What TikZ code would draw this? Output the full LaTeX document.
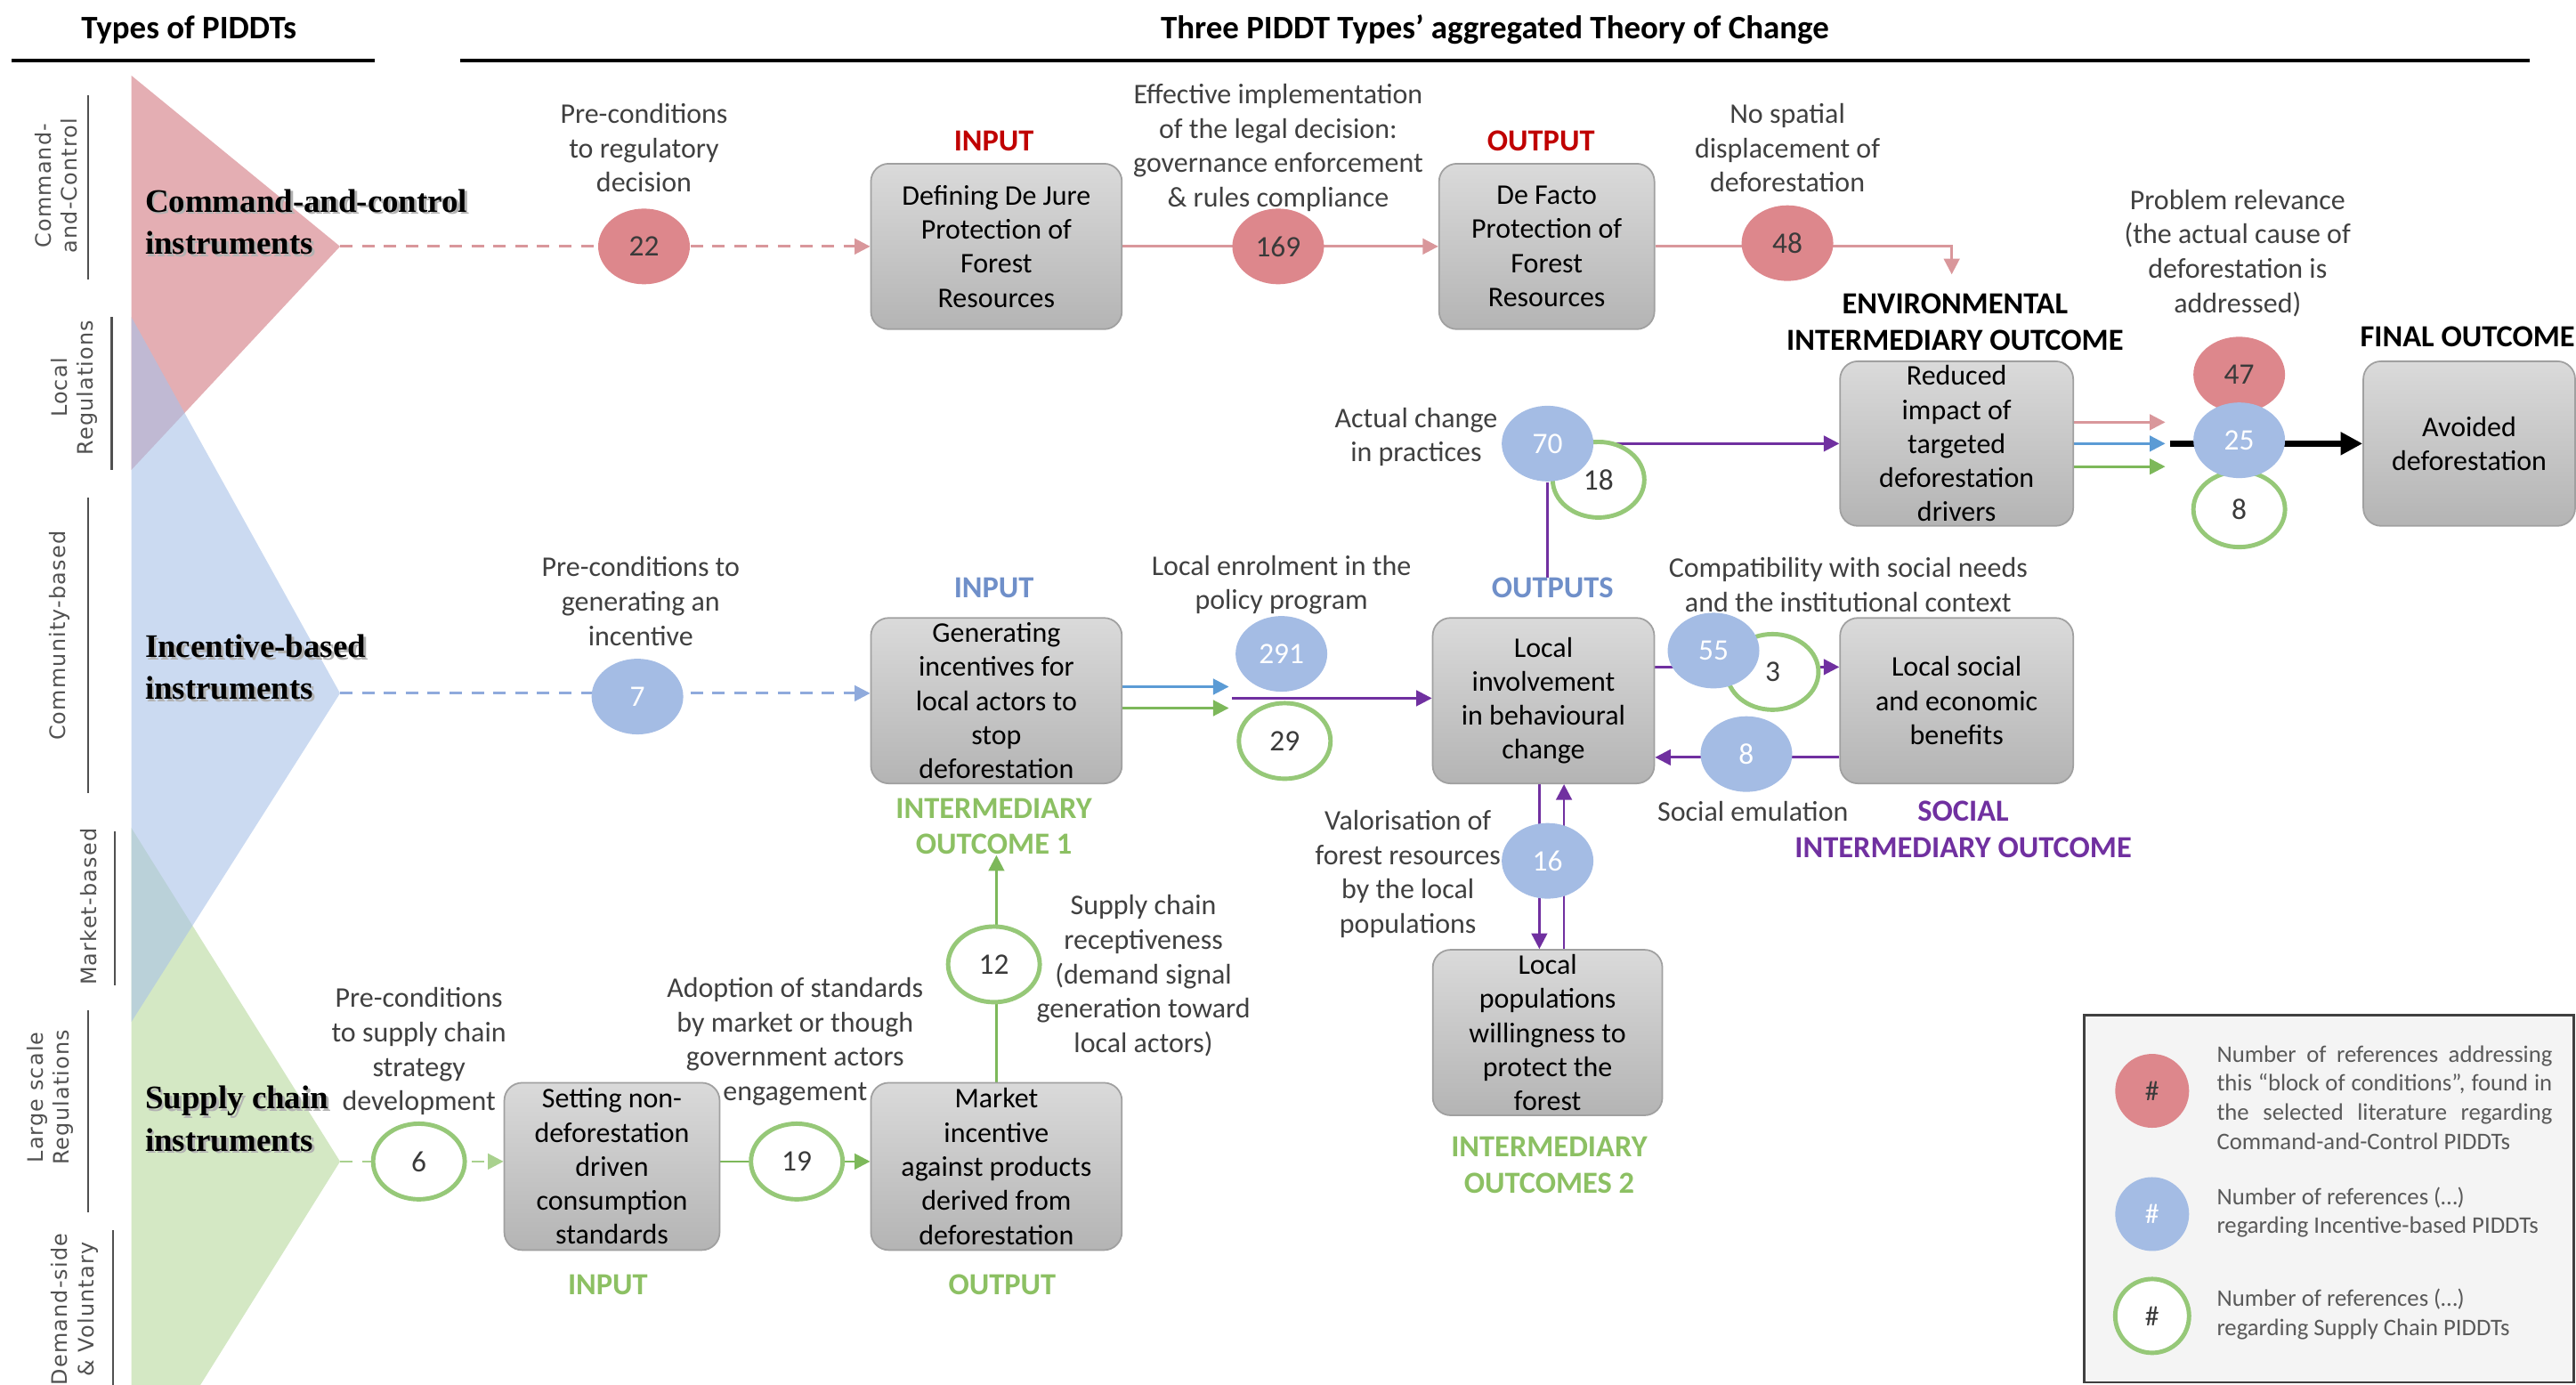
\documentclass[tikz,border=0pt]{standalone}
\usepackage{fontspec}
\setmainfont{Carlito}
\newfontfamily\serifbold{Liberation Serif}
\newfontfamily\sidefont[LetterSpace=5]{DejaVu Sans}
\usetikzlibrary{arrows.meta,shapes.geometric,backgrounds}
\definecolor{redfill}{HTML}{DD878C}
\definecolor{bluefill}{HTML}{A4BCE4}
\definecolor{greenring}{HTML}{96C878}
\definecolor{pinkline}{HTML}{D9979B}
\definecolor{blueline}{HTML}{5B9BD5}
\definecolor{bluedash}{HTML}{8FAADC}
\definecolor{greenarrow}{HTML}{7DB85A}
\definecolor{greendash}{HTML}{A9D18E}
\definecolor{purp}{HTML}{7030A0}
\definecolor{lblgray}{HTML}{404040}
\definecolor{numdark}{HTML}{3A3A3A}
\definecolor{boxtop}{HTML}{DADADA}
\definecolor{boxbot}{HTML}{B4B4B4}
\definecolor{boxline}{HTML}{A0A0A0}
\definecolor{redlbl}{HTML}{C00000}
\definecolor{bluelbl}{HTML}{6F8FC9}
\definecolor{greenlbl}{HTML}{8CC063}
\definecolor{redtri}{HTML}{D27880}
\definecolor{bluetri}{HTML}{A9C2E8}
\definecolor{greentri}{HTML}{B8D99D}
\definecolor{sidegray}{HTML}{505050}
\definecolor{legfill}{HTML}{F4F4F4}
\definecolor{legline}{HTML}{404040}
\definecolor{leggray}{HTML}{595959}
\begin{document}
\begin{tikzpicture}[x=0.018457cm,y=-0.018457cm,
  lbl/.style={font=\fontsize{9.1}{11}\selectfont, text=lblgray, align=center, inner sep=0pt},
  clbl/.style={font=\fontsize{9.8}{11.6}\selectfont\bfseries, align=center, inner sep=0pt},
  box/.style={rounded corners=0.2cm, top color=boxtop, bottom color=boxbot, draw=boxline,
    line width=0.5pt, align=center, inner sep=0pt, font=\fontsize{9.1}{10.9}\selectfont,
    text=black, minimum height=1.86cm},
  cnum/.style={ellipse, minimum width=1.03cm, minimum height=0.85cm, inner sep=0pt,
    font=\fontsize{9.5}{11}\selectfont},
  cred/.style={cnum, fill=redfill, text=numdark},
  cblue/.style={cnum, fill=bluefill, text=white},
  cgreen/.style={cnum, fill=white, draw=greenring, line width=1.4pt, text=numdark},
  hdr/.style={font=\fontsize{10.5}{12}\selectfont\bfseries, align=center, inner sep=0pt},
  tri/.style={font=\serifbold\fontsize{10.5}{13.4}\selectfont\bfseries, align=left, anchor=west, inner sep=0pt},
  side/.style={font=\sidefont\fontsize{6.8}{8.3}\selectfont, text=sidegray, align=center, rotate=90, inner sep=0pt},
  conn/.style={line width=0.8pt, -{Triangle[length=5pt,width=5pt]}},
  lgc/.style={circle, minimum size=0.83cm, inner sep=0pt, font=\fontsize{9}{10}\selectfont},
  legtxt/.style={anchor=west, text=leggray, font=\fontsize{7.6}{9.3}\selectfont, inner sep=0pt},
]
\useasboundingbox (0,0) rectangle (1568,843);

% ---------- triangles ----------
\begin{pgfonlayer}{background}
\fill[redtri, fill opacity=.6] (80,46) -- (207,150) -- (80,286) -- cycle;
\fill[greentri, fill opacity=.6] (80,504) -- (207,707) -- (122,843) -- (80,843) -- cycle;
\fill[bluetri, fill opacity=.6] (80,193) -- (207,422) -- (80,622) -- cycle;
\end{pgfonlayer}

% ---------- headers ----------
\node[hdr] (h1) at (115,18) {Types of PIDDTs};
\node[hdr] (h2) at (910,18) {Three PIDDT Types’ aggregated Theory of Change};
\draw[line width=1.1pt] (7,37) -- (228,37);
\draw[line width=1.1pt] (280,37) -- (1540,37);

% ---------- side labels ----------
\draw[sidegray, line width=0.6pt] (53.6,58) -- (53.6,170);
\draw[sidegray, line width=0.6pt] (68,193) -- (68,286);
\draw[sidegray, line width=0.6pt] (53.6,303) -- (53.6,483);
\draw[sidegray, line width=0.6pt] (70,506) -- (70,600);
\draw[sidegray, line width=0.6pt] (53.6,615) -- (53.6,738);
\draw[sidegray, line width=0.6pt] (69,749) -- (69,843);
\node[side] (s1) at (34,113) {Command-\\and-Control};
\node[side] (s2) at (45,236) {Local\\Regulations};
\node[side] (s3) at (36,387) {Community-based};
\node[side] (s4) at (54,552) {Market-based};
\node[side] (s5) at (30.5,668) {Large scale\\Regulations};
\node[side] (s6) at (45.5,797) {Demand-side\\\& Voluntary};

% ---------- triangle labels ----------
\node[tri, text=black!30] at (89.5,136.5) {Command-and-control\\instruments};
\node[tri] (tC) at (88,135) {Command-and-control\\instruments};
\node[tri, text=black!30] at (89.5,407.5) {Incentive-based\\instruments};
\node[tri] (tI) at (88,406) {Incentive-based\\instruments};
\node[tri, text=black!30] at (89.5,682.5) {Supply chain\\instruments};
\node[tri] (tS) at (88,681) {Supply chain\\instruments};

% ---------- boxes ----------
\node[box, minimum width=2.82cm] (b1) at (606.5,150) {Defining De Jure\\Protection of\\Forest\\Resources};
\node[box, minimum width=2.42cm] (b2) at (941.5,150) {De Facto\\Protection of\\Forest\\Resources};
\node[box, minimum width=2.62cm, minimum height=1.85cm] (env) at (1191,270) {Reduced\\impact of\\targeted\\deforestation\\drivers};
\node[box, minimum width=2.38cm, minimum height=1.85cm] (final) at (1503,270) {Avoided\\deforestation};
\node[box, minimum width=2.82cm] (b3) at (606.5,426.5) {Generating\\incentives for\\local actors to\\stop\\deforestation};
\node[box, minimum width=2.49cm] (b4) at (939.5,426.5) {Local\\involvement\\in behavioural\\change};
\node[box, minimum width=2.62cm] (b5) at (1191,426.5) {Local social\\and economic\\benefits};
\node[box, minimum width=2.58cm] (b6) at (942,628.5) {Local\\populations\\willingness to\\protect the\\forest};
\node[box, minimum width=2.42cm, minimum height=1.88cm] (b7) at (372.5,710) {Setting non-\\deforestation\\driven\\consumption\\standards};
\node[box, minimum width=2.82cm, minimum height=1.88cm] (b8) at (606.5,710) {Market\\incentive\\against products\\derived from\\deforestation};

% ---------- circles ----------
\node[cred] (c22) at (392,150) {22};
\node[cred] (c169) at (778,150) {169};
\node[cred] (c48) at (1088,148) {48};
\node[cred] (c47) at (1363,228) {47};
\node[cgreen] (c8g) at (1363,310) {8};
\node[cblue] (c25) at (1363,268) {25};
\node[cgreen] (c18) at (973,292) {18};
\node[cblue] (c70) at (942,270) {70};
\node[cblue] (c7) at (388,424) {7};
\node[cblue] (c291) at (780,398) {291};
\node[cgreen] (c29) at (782,451) {29};
\node[cgreen] (c3) at (1079,409) {3};
\node[cblue] (c55) at (1043,396) {55};
\node[cblue] (c8b) at (1063,459) {8};
\node[cblue] (c16) at (942,524) {16};
\node[cgreen] (c6) at (255,707) {6};
\node[cgreen] (c19) at (485,707) {19};
\node[cgreen] (c12) at (605,587) {12};

% ---------- labels ----------
\node[lbl] (l22) at (392,90) {Pre-conditions\\to regulatory\\decision};
\node[lbl] (l169) at (778,90) {Effective implementation\\of the legal decision:\\governance enforcement\\\& rules compliance};
\node[lbl] (l48) at (1088,90) {No spatial\\displacement of\\deforestation};
\node[clbl, text=redlbl] (in1) at (605,86) {INPUT};
\node[clbl, text=redlbl] (out1) at (938,86) {OUTPUT};
\node[lbl] (lpr) at (1362,154) {Problem relevance\\(the actual cause of\\deforestation is\\addressed)};
\node[clbl] (envl) at (1190,196) {ENVIRONMENTAL\\INTERMEDIARY OUTCOME};
\node[clbl] (finl) at (1502,205) {FINAL OUTCOME};
\node[lbl] (l70) at (862,266) {Actual change\\in practices};
\node[lbl] (l7) at (390,366) {Pre-conditions to\\generating an\\incentive};
\node[clbl, text=bluelbl] (in2) at (605,358) {INPUT};
\node[clbl, text=bluelbl] (outs) at (945,358) {OUTPUTS};
\node[lbl] (l291) at (780,356) {Local enrolment in the\\policy program};
\node[lbl] (l55) at (1125,356) {Compatibility with social needs\\and the institutional context};
\node[clbl, text=greenlbl] (io1) at (605,503) {INTERMEDIARY\\OUTCOME 1};
\node[lbl] (l8b) at (1067,494) {Social emulation};
\node[clbl, text=purp] (soc) at (1195,505) {SOCIAL\\INTERMEDIARY OUTCOME};
\node[lbl] (l16) at (857,532) {Valorisation of\\forest resources\\by the local\\populations};
\node[clbl, text=greenlbl] (io2) at (943,709) {INTERMEDIARY\\OUTCOMES 2};
\node[lbl] (l6) at (255,640) {Pre-conditions\\to supply chain\\strategy\\development};
\node[clbl, text=greenlbl] (in3) at (370,782) {INPUT};
\node[clbl, text=greenlbl] (out3) at (610,782) {OUTPUT};
\node[lbl] (l19) at (484,634) {Adoption of standards\\by market or though\\government actors\\engagement};
\node[lbl] (l12) at (696,594) {Supply chain\\receptiveness\\(demand signal\\generation toward\\local actors)};

% ---------- legend ----------
\node[draw=legline, fill=legfill, line width=0.8pt, minimum width=5.50cm, minimum height=4.13cm, anchor=north west, inner sep=0pt] (leg) at (1268,617) {};
\node[lgc, fill=redfill, text=numdark] (lg1) at (1310,664) {\#};
\node[lgc, fill=bluefill, text=white] (lg2) at (1310,739) {\#};
\node[lgc, fill=white, draw=greenring, line width=1.4pt, text=numdark] (lg3) at (1310,801) {\#};
\node[legtxt] (lt1) at (1349,668) {\parbox{3.77cm}{Number of references addressing\linebreak this “block of conditions”, found in\linebreak the selected literature regarding\linebreak Command-and-Control PIDDTs}};
\node[legtxt, align=left] (lt2) at (1349,738) {Number of references (…)\\regarding Incentive-based PIDDTs};
\node[legtxt, align=left] (lt3) at (1349,800) {Number of references (…)\\regarding Supply Chain PIDDTs};

% ---------- connectors ----------
\begin{pgfonlayer}{background}
% row 1
\coordinate (tipR) at (207,150);
\draw[conn, pinkline, dash pattern=on 4pt off 3pt] (tipR) -- (b1.west);
\draw[conn, pinkline] (b1.east) -- (b2.west);
\coordinate (envIn) at (1188,167);
\draw[conn, pinkline] (b2.east) -| (envIn);
% env to final
\coordinate (eR) at (1318,257);
\coordinate (eB) at (1318,270);
\coordinate (eG) at (1318,284);
\draw[conn, pinkline] (env.east |- eR) -- (eR);
\draw[conn, blueline] (env.east |- eB) -- (eB);
\draw[conn, greenarrow] (env.east |- eG) -- (eG);
\coordinate (kS) at (1321,270);
\draw[black, line width=1.8pt, -{Triangle[length=7pt,width=7pt]}] (kS) -- (final.west);
% row 2
\coordinate (tipB) at (207,422);
\draw[conn, bluedash, dash pattern=on 4pt off 3pt] (tipB) -- (b3.west |- tipB);
\coordinate (aB) at (748,418);
\coordinate (aG) at (748,431);
\coordinate (aP) at (750,425);
\draw[conn, blueline] (b3.east |- aB) -- (aB);
\draw[conn, greenarrow] (b3.east |- aG) -- (aG);
\draw[conn, purp] (aP) -- (b4.west |- aP);
\draw[purp, line width=0.8pt] (c70.south) -- (c70.south |- outs.north);
\draw[conn, purp] (c70.east) -- (env.west |- c70.east);
\coordinate (y55) at (1000,406);
\coordinate (y8) at (1000,461);
\draw[conn, purp] (b4.east |- y55) -- (b5.west |- y55);
\draw[conn, purp] (b5.west |- y8) -- (b4.east |- y8);
\coordinate (xd) at (937,500);
\coordinate (xu) at (952,500);
\draw[conn, purp] (b4.south -| xd) -- (b6.north -| xd);
\draw[conn, purp] (b6.north -| xu) -- (b4.south -| xu);
% row 3
\coordinate (tipG) at (207,707);
\draw[conn, greendash, dash pattern=on 4pt off 3pt] (tipG) -- (b7.west |- tipG);
\draw[conn, greenarrow] (b7.east |- tipG) -- (b8.west |- tipG);
\draw[conn, greenarrow] (b8.north) -- (b8.north |- io1.south);
\end{pgfonlayer}
\end{tikzpicture}
\end{document}
